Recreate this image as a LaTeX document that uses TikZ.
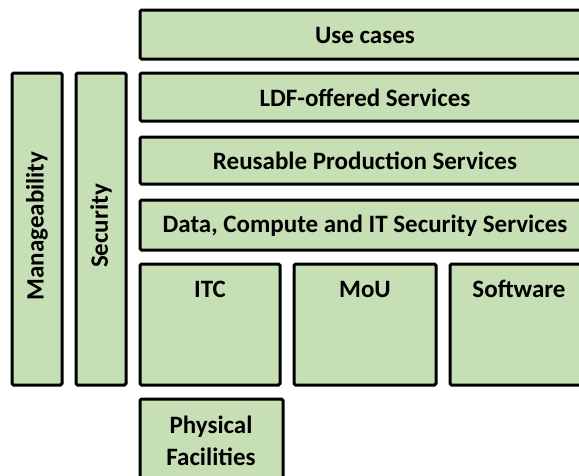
\documentclass[tikz,border=0pt]{standalone}
\usepackage{fontspec}
\setmainfont{Carlito}
\definecolor{boxgreen}{HTML}{C6DFB4}
\begin{document}
\begin{tikzpicture}[x=1pt,y=-1pt,
  layer/.style={draw=black,fill=boxgreen,line width=3pt,rounded corners=1.5pt},
  lbl/.style={font=\fontsize{25}{30}\selectfont\bfseries,text=black,align=center,inner sep=0pt}]
\useasboundingbox (0,0) rectangle (579,475);
\clip (0,0) rectangle (579,475);
\draw[layer] (140,10) rectangle (589,59);
\node[lbl] (uc) at (365,35) {Use cases};
\draw[layer] (140,73) rectangle (589,121);
\node[lbl] (ldf) at (365,98) {LDF-offered Services};
\draw[layer] (140,137) rectangle (589,184);
\node[lbl] (rps) at (365,161) {Reusable Production Services};
\draw[layer] (140,200) rectangle (589,250);
\node[lbl] (dcs) at (365,226) {Data, Compute and IT Security Services};
\draw[layer] (140,264) rectangle (280,385);
\node[lbl] (itc) at (210,289) {ITC};
\draw[layer] (294,264) rectangle (436,385);
\node[lbl] (mou) at (365,289) {MoU};
\draw[layer] (450,264) rectangle (589,385);
\node[lbl] (sw) at (519,289) {Software};
\draw[layer] (140,399) rectangle (283,490);
\node[lbl,font=\fontsize{25}{32}\selectfont\bfseries] (pf) at (211,441) {Physical\\Facilities};
\draw[layer] (12,73) rectangle (62,385);
\node[lbl,rotate=90] (man) at (37,226) {Manageability};
\draw[layer] (76,73) rectangle (126,385);
\node[lbl,rotate=90] (sec) at (101,226) {Security};
\end{tikzpicture}
\end{document}
